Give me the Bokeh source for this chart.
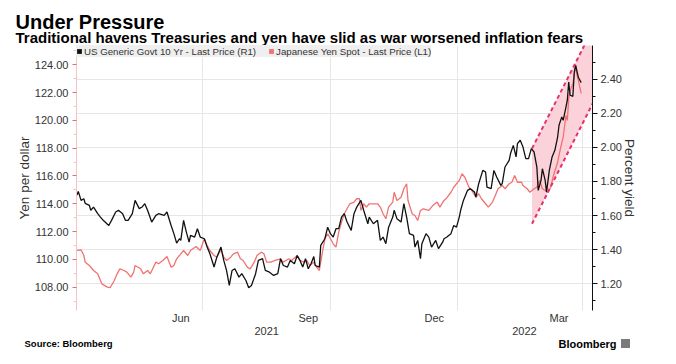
import datetime as dt
from bokeh.plotting import figure
from bokeh.layouts import column
from bokeh.models import (Range1d, LinearAxis, FixedTicker, PrintfTickFormatter,
                          Grid, Legend, LegendItem)
from bokeh.core.properties import value
from bokeh.embed import file_html
from bokeh.resources import INLINE

# ---------------- data ----------------
START = dt.datetime(2021, 4, 1)

# US Generic Govt 10 Yr yield (percent), day offsets from START
yield_day = [0, 1, 3, 5, 6, 9, 10, 12, 15, 17, 19, 23, 25, 28, 30, 33, 35, 37, 40, 42,
             45, 47, 49, 51, 54, 57, 59, 63, 65, 68, 70, 72, 74, 75, 77, 79, 81, 82, 85, 87,
             89, 92, 94, 96, 99, 101, 104, 106, 108, 110, 112, 114, 117, 119, 122, 124, 126, 129, 131, 134,
             136, 139, 142, 145, 147, 149, 152, 154, 157, 159, 161, 163, 165, 167, 169, 171, 172, 175, 176, 179,
             181, 183, 185, 187, 189, 191, 193, 195, 198, 200, 202, 205, 207, 210, 211, 214, 217, 219, 221, 223,
             225, 228, 229, 231, 234, 236, 238, 240, 243, 244, 246, 248, 249, 252, 254, 256, 259, 261, 264, 265,
             267, 270, 272, 274, 276, 277, 279, 282, 284, 287, 288, 290, 293, 295, 296, 299, 301, 303, 306, 307,
             309, 312, 313, 315, 317, 318, 320, 322, 324, 326, 328, 330, 332, 333, 335, 336, 338, 339, 341, 343,
             345, 347, 348, 350, 351, 353, 354, 355, 356, 358, 359, 360, 362, 364]
yield_val = [1.719, 1.742, 1.689, 1.699, 1.672, 1.660, 1.631, 1.650, 1.611, 1.591, 1.572, 1.542, 1.572, 1.621, 1.631, 1.611, 1.572, 1.572, 1.611, 1.689,
             1.641, 1.650, 1.670, 1.631, 1.562, 1.601, 1.611, 1.601, 1.621, 1.542, 1.494, 1.438, 1.464, 1.454, 1.572, 1.503, 1.444, 1.484, 1.474, 1.523,
             1.474, 1.464, 1.415, 1.376, 1.298, 1.356, 1.415, 1.337, 1.278, 1.190, 1.278, 1.288, 1.239, 1.259, 1.219, 1.176, 1.190, 1.259, 1.337, 1.347,
             1.278, 1.268, 1.249, 1.259, 1.347, 1.307, 1.298, 1.337, 1.317, 1.366, 1.337, 1.298, 1.347, 1.288, 1.317, 1.360, 1.307, 1.298, 1.425, 1.464,
             1.532, 1.494, 1.474, 1.523, 1.523, 1.591, 1.611, 1.562, 1.513, 1.611, 1.650, 1.689, 1.631, 1.552, 1.591, 1.552, 1.572, 1.454, 1.474, 1.435,
             1.532, 1.591, 1.631, 1.582, 1.562, 1.670, 1.591, 1.494, 1.484, 1.415, 1.454, 1.347, 1.435, 1.494, 1.474, 1.415, 1.454, 1.406, 1.444, 1.464,
             1.474, 1.494, 1.542, 1.532, 1.591, 1.631, 1.689, 1.748, 1.758, 1.738, 1.709, 1.787, 1.865, 1.856, 1.767, 1.758, 1.865, 1.826, 1.777, 1.787,
             1.885, 1.924, 1.964, 2.012, 1.944, 2.022, 2.042, 2.002, 1.934, 1.934, 1.993, 1.973, 1.885, 1.748, 1.807, 1.875, 1.807, 1.738, 1.865, 1.944,
             1.983, 2.061, 2.130, 2.179, 2.159, 2.237, 2.277, 2.384, 2.306, 2.300, 2.440, 2.482, 2.410, 2.380]

# Japanese Yen spot (yen per dollar), day offsets from START
yen_day = [0, 3, 5, 6, 9, 12, 15, 18, 22, 24, 27, 29, 31, 34, 36, 39, 41, 42, 46, 48,
           51, 53, 57, 59, 62, 65, 68, 70, 72, 75, 77, 80, 82, 86, 89, 92, 94, 96, 99, 101,
           104, 106, 108, 111, 113, 116, 118, 120, 123, 125, 128, 130, 133, 135, 137, 140, 143, 147, 149, 153,
           155, 159, 161, 164, 166, 168, 171, 173, 175, 177, 179, 181, 183, 185, 187, 189, 191, 193, 195, 197,
           200, 202, 204, 205, 207, 209, 211, 214, 217, 219, 221, 223, 225, 228, 229, 231, 234, 236, 238, 239,
           242, 244, 246, 248, 250, 254, 257, 260, 262, 265, 267, 270, 272, 276, 278, 280, 283, 285, 288, 290,
           292, 295, 297, 300, 302, 304, 307, 309, 312, 314, 316, 318, 321, 322, 325, 327, 330, 332, 334, 336,
           338, 340, 342, 344, 347, 349, 351, 353, 354, 355, 356, 358, 360, 361, 364]
yen_val = [110.64, 110.69, 110.28, 109.80, 109.56, 109.20, 108.96, 108.24, 108.00, 107.96, 108.48, 108.96, 109.32, 109.20, 109.08, 108.72, 109.08, 109.56, 109.32, 108.96,
           109.20, 108.96, 109.80, 109.68, 109.92, 110.21, 109.44, 109.56, 110.04, 110.40, 110.64, 110.28, 110.64, 110.93, 110.64, 111.48, 111.00, 110.64, 110.28, 110.16,
           110.69, 110.16, 109.92, 110.16, 110.40, 110.52, 110.04, 109.92, 109.44, 109.30, 109.80, 110.28, 110.52, 110.40, 109.80, 109.80, 109.92, 110.04, 109.80, 110.04,
           109.92, 110.28, 109.92, 109.80, 109.92, 109.56, 109.80, 109.44, 109.20, 110.40, 111.48, 111.84, 111.48, 111.12, 110.88, 111.96, 112.68, 113.28, 113.64, 114.00,
           114.12, 114.36, 114.36, 113.52, 114.00, 113.76, 114.00, 114.00, 114.00, 113.76, 113.28, 112.92, 113.76, 114.12, 114.83, 114.24, 114.47, 115.08, 115.44, 114.24,
           113.28, 113.16, 112.80, 113.52, 113.64, 113.52, 113.88, 114.12, 113.76, 114.24, 114.42, 114.83, 115.19, 115.68, 116.16, 115.91, 115.19, 114.96, 114.47, 114.72,
           114.36, 114.00, 113.76, 114.12, 114.60, 115.08, 115.32, 115.08, 115.44, 115.55, 116.04, 115.55, 115.55, 115.32, 115.08, 114.83, 115.08, 115.19, 115.68, 115.08,
           114.96, 114.83, 115.19, 116.04, 116.99, 117.96, 118.79, 120.35, 120.00, 121.55, 122.15, 122.63, 123.95, 123.27, 121.94]

# trend channel drawn on the chart (yield units)
channel_dates = ["2022-02-23 12:00", "2022-04-08 04:00"]
channel_upper = [1.993, 2.693]
channel_lower = [1.552, 2.256]

# axes
x_start, x_end = "2021-03-31 17:00", "2022-04-08 04:00"
yield_lo, yield_hi = 1.043, 2.598
yen_lo, yen_hi = 106.32, 125.39
yield_ticks = [1.2, 1.4, 1.6, 1.8, 2.0, 2.2, 2.4]
yield_minor = [1.1, 1.3, 1.5, 1.7, 1.9, 2.1, 2.3, 2.5]
yen_ticks = [108, 110, 112, 114, 116, 118, 120, 122, 124]
yen_minor = [107, 109, 111, 113, 115, 117, 119, 121, 123, 125]
month_tick_dates = ["2021-06-15", "2021-09-15", "2021-12-15", "2022-03-15"]
month_tick_labels = ["Jun", "Sep", "Dec", "Mar"]
year_tick_dates = ["2021-08-16", "2022-02-18"]
year_tick_labels = ["2021", "2022"]
grid_dates = ["2021-07-01", "2021-10-01", "2022-01-01", "2022-04-01"]

title_text = "Under Pressure"
subtitle_text = "Traditional havens Treasuries and yen have slid as war worsened inflation fears"
source_text = "Source: Bloomberg"
logo_text = "Bloomberg"
legend_yield = "US Generic Govt 10 Yr - Last Price (R1)"
legend_yen = "Japanese Yen Spot - Last Price (L1)"

# ---------------- helpers ----------------
def ms(s):
    d = dt.datetime.fromisoformat(s)
    return (d - dt.datetime(1970, 1, 1)).total_seconds() * 1000.0

FONT = "Liberation Sans"
TXT = "#333333"
RED = "#f27272"
PINK = "#e8306a"
W = 676


def text_strip(height, y_top):
    """A figure used only as a text band; its ranges are page pixels."""
    f = figure(width=W, height=height, output_backend="svg", toolbar_location=None,
               x_range=Range1d(0, W), y_range=Range1d(y_top + height, y_top),
               x_axis_location=None, y_axis_location=None,
               min_border=0, min_border_left=0, min_border_right=0,
               min_border_top=0, min_border_bottom=0)
    f.frame_align = False
    f.grid.visible = False
    f.outline_line_color = None
    f.background_fill_color = "white"
    f.border_fill_color = "white"
    return f


# ---------------- header ----------------
head = text_strip(45, 0)
head.text(x=[15], y=[21], text=[title_text], text_font=value(FONT),
          text_font_size="20px", text_font_style="bold", text_color="#000000",
          text_baseline="alphabetic", text_align="left")
head.text(x=[15], y=[37], text=[subtitle_text], text_font=value(FONT),
          text_font_size="15px", text_font_style="bold", text_color="#000000",
          text_baseline="alphabetic", text_align="left")

# ---------------- main chart ----------------
yield_x = [START + dt.timedelta(days=d) for d in yield_day]
yen_x = [START + dt.timedelta(days=d) for d in yen_day]

p = figure(width=W, height=293, output_backend="svg", toolbar_location=None,
           x_axis_location=None, y_axis_location=None,
           x_range=Range1d(ms(x_start), ms(x_end)),
           y_range=Range1d(yield_lo, yield_hi),
           min_border_left=76, min_border_right=84, min_border_top=0, min_border_bottom=28)
p.frame_align = False
p.extra_y_ranges = {"yen": Range1d(yen_lo, yen_hi)}
p.outline_line_color = None
p.background_fill_color = "white"
p.border_fill_color = "white"
p.grid.visible = False

p.add_layout(Grid(dimension=0, ticker=FixedTicker(ticks=[ms(d) for d in grid_dates]),
                  grid_line_color="#e6e6e6", grid_line_width=1))
p.add_layout(Grid(dimension=1, ticker=FixedTicker(ticks=yield_ticks),
                  grid_line_color="#e6e6e6", grid_line_width=1))

ra = LinearAxis(ticker=FixedTicker(ticks=yield_ticks, minor_ticks=yield_minor),
                formatter=PrintfTickFormatter(format="%.2f"),
                axis_label="Percent yield")
ra.axis_line_color = "#111111"
ra.major_tick_line_color = "#111111"
ra.minor_tick_line_color = "#111111"
ra.major_tick_out = 5
ra.major_tick_in = 0
ra.minor_tick_out = 3
ra.minor_tick_in = 0
ra.major_label_standoff = 3
ra.major_label_text_font = FONT
ra.major_label_text_font_size = "11px"
ra.major_label_text_color = TXT
ra.axis_label_text_font = FONT
ra.axis_label_text_font_size = "13.5px"
ra.axis_label_text_font_style = "normal"
ra.axis_label_text_color = TXT
ra.axis_label_standoff = -3
p.add_layout(ra, "right")

la = LinearAxis(y_range_name="yen",
                ticker=FixedTicker(ticks=yen_ticks, minor_ticks=yen_minor),
                formatter=PrintfTickFormatter(format="%.2f"),
                axis_label="Yen per dollar")
la.axis_line_color = "#f4c4c4"
la.major_tick_line_color = "#e86a6a"
la.minor_tick_line_color = "#f4c4c4"
la.major_tick_out = 4
la.major_tick_in = 0
la.minor_tick_out = 3
la.minor_tick_in = 0
la.major_label_standoff = 4
la.major_label_text_font = FONT
la.major_label_text_font_size = "11px"
la.major_label_text_color = TXT
la.axis_label_text_font = FONT
la.axis_label_text_font_size = "13.5px"
la.axis_label_text_font_style = "normal"
la.axis_label_text_color = TXT
la.axis_label_standoff = 0
p.add_layout(la, "left")


def x_axis(dates, labels, standoff):
    ticks = [ms(d) for d in dates]
    ax = LinearAxis(ticker=FixedTicker(ticks=ticks),
                    major_label_overrides={t: l for t, l in zip(ticks, labels)})
    ax.axis_line_color = None
    ax.major_tick_line_color = None
    ax.minor_tick_line_color = None
    ax.major_tick_out = 0
    ax.major_tick_in = 0
    ax.minor_tick_out = 0
    ax.minor_tick_in = 0
    ax.major_label_standoff = standoff
    ax.major_label_text_font = FONT
    ax.major_label_text_font_size = "11px"
    ax.major_label_text_color = TXT
    return ax


p.add_layout(x_axis(month_tick_dates, month_tick_labels, 1), "below")
p.add_layout(x_axis(year_tick_dates, year_tick_labels, 0), "below")

# shaded channel
cx = [dt.datetime.fromisoformat(d) for d in channel_dates]
p.patch(x=[cx[0], cx[1], cx[1], cx[0]],
        y=[channel_upper[0], channel_upper[1], channel_lower[1], channel_lower[0]],
        fill_color="#fcd2da", fill_alpha=1.0, line_color=None)

# data lines
p.line(yen_x, yen_val, y_range_name="yen", line_color=RED, line_width=1.3)
p.line(yield_x, yield_val, line_color="#111111", line_width=1.3)

# channel dashed lines
p.line(cx, channel_upper, line_color=PINK, line_width=2, line_dash="4 3")
p.line(cx, channel_lower, line_color=PINK, line_width=2, line_dash="4 3")

# legend swatches: zero-size quads placed below the visible range
sq_b = p.quad(left=[cx[0]], right=[cx[0]], top=[0.0], bottom=[0.0],
              fill_color="#111111", line_color=None)
sq_r = p.quad(left=[cx[0]], right=[cx[0]], top=[0.0], bottom=[0.0],
              fill_color=RED, line_color=None)
legend = Legend(items=[LegendItem(label=legend_yield, renderers=[sq_b]),
                       LegendItem(label=legend_yen, renderers=[sq_r])],
                location="top_left", orientation="horizontal",
                glyph_width=6, glyph_height=6, label_standoff=2, spacing=12,
                padding=4, margin=0, label_height=12,
                label_text_font=FONT, label_text_font_size="9.7px", label_text_color=TXT,
                background_fill_color="#efefef", background_fill_alpha=1.0,
                border_line_color=None)
p.add_layout(legend, "center")

# ---------------- footer ----------------
foot = text_strip(26, 338)
foot.text(x=[24], y=[343], text=[source_text], text_font=value(FONT),
          text_font_size="9.5px", text_font_style="bold", text_color="#000000",
          text_baseline="middle", text_align="left")
foot.text(x=[558], y=[343], text=[logo_text], text_font=value(FONT),
          text_font_size="11px", text_font_style="bold", text_color="#000000",
          text_baseline="middle", text_align="left")
# small logo badge after the wordmark
foot.rect(x=[625], y=[343], width=9, height=9, fill_color="#7a7a7a", line_color=None)

layout = column(head, p, foot, spacing=0)
open("out.html", "w").write(file_html(layout, INLINE))
